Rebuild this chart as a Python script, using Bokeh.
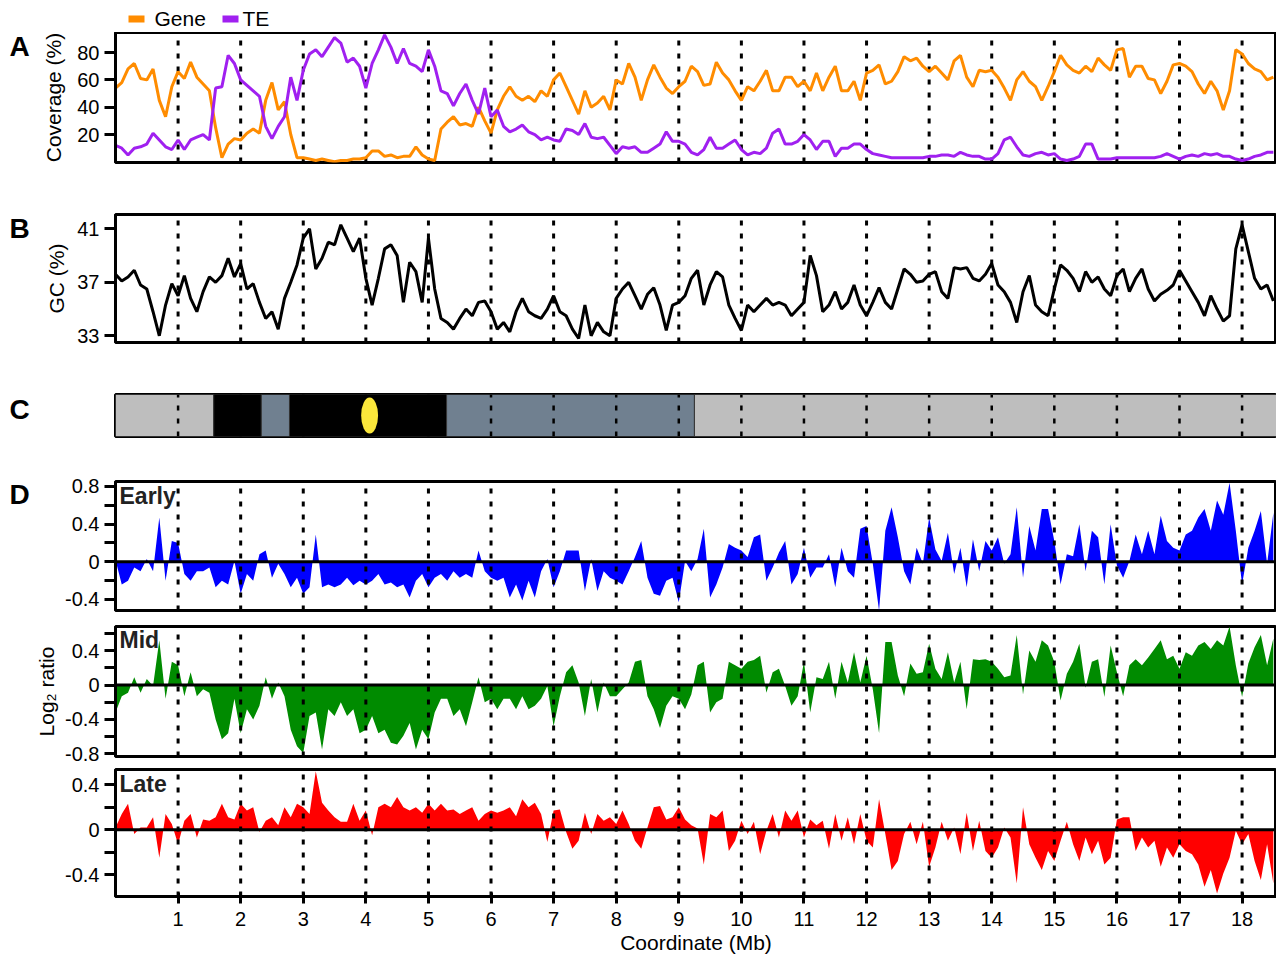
from bokeh.plotting import figure
from bokeh.models import Range1d, FixedTicker, Label, Span, CustomJSTickFormatter
from bokeh.layouts import column, row
from bokeh.embed import file_html
from bokeh.resources import INLINE
from bokeh.core.properties import value

FONT = "Liberation Sans"

# ---------------- data ----------------
pos_mb = [round(i * 0.1, 1) for i in range(186)]

gene_cov = [
    54, 58, 68, 72, 61, 60, 68, 45, 33, 55,
    66, 61, 73, 62, 57, 52, 25, 3, 13, 17,
    16, 21, 24, 21, 45, 58, 38, 44, 20, 3,
    3, 2, 1, 2, 1, 0, 1, 1, 2, 2,
    3, 8, 8, 4, 5, 3, 4, 4, 11, 5,
    2, 1, 24, 29, 33, 27, 28, 26, 40, 30,
    21, 38, 48, 55, 48, 45, 48, 44, 52, 48,
    60, 65, 55, 45, 35, 52, 40, 43, 48, 38,
    60, 57, 72, 62, 45, 60, 71, 62, 54, 50,
    55, 59, 70, 66, 56, 57, 73, 65, 60, 52,
    45, 55, 52, 59, 67, 52, 52, 62, 62, 55,
    59, 52, 65, 52, 62, 70, 52, 52, 59, 45,
    65, 67, 71, 57, 59, 66, 77, 74, 76, 70,
    66, 70, 65, 60, 74, 78, 62, 55, 67, 66,
    67, 62, 54, 45, 60, 66, 59, 55, 45, 55,
    66, 78, 71, 67, 65, 70, 66, 76, 71, 67,
    82, 83, 62, 70, 70, 61, 60, 50, 59, 71,
    72, 70, 66, 57, 50, 59, 52, 38, 52, 82,
    79, 72, 68, 66, 60, 62,
]

te_cov = [
    12, 10, 5, 10, 11, 13, 21, 16, 11, 9,
    16, 9, 16, 18, 20, 16, 54, 55, 78, 72,
    60, 56, 52, 48, 26, 17, 26, 33, 62, 45,
    67, 79, 82, 77, 84, 91, 87, 73, 76, 70,
    54, 72, 82, 93, 84, 72, 83, 72, 70, 66,
    82, 70, 52, 50, 41, 50, 57, 45, 35, 54,
    33, 38, 26, 22, 24, 27, 22, 20, 16, 18,
    16, 15, 24, 23, 20, 28, 18, 17, 18, 12,
    6, 11, 10, 11, 7, 7, 10, 13, 22, 15,
    15, 13, 7, 5, 9, 18, 10, 10, 13, 16,
    9, 5, 7, 6, 10, 21, 24, 13, 13, 15,
    20, 16, 9, 15, 15, 4, 10, 10, 13, 13,
    9, 6, 5, 4, 3, 3, 3, 3, 3, 3,
    4, 4, 5, 5, 4, 7, 5, 4, 4, 2,
    2, 6, 16, 18, 11, 5, 4, 6, 7, 5,
    6, 2, 1, 2, 4, 13, 13, 2, 2, 2,
    3, 3, 3, 3, 3, 3, 3, 4, 6, 4,
    2, 4, 5, 4, 6, 5, 6, 4, 4, 2,
    1, 2, 4, 5, 7, 7,
]

gc_pct = [
    37.6, 37.1, 37.4, 37.9, 36.8, 36.5, 34.8, 33.0, 35.3, 36.9,
    36.0, 37.5, 35.8, 34.8, 36.3, 37.4, 37.0, 37.5, 38.8, 37.4,
    38.4, 36.5, 36.9, 35.5, 34.3, 34.8, 33.5, 35.8, 37.0, 38.3,
    40.3, 41.0, 38.0, 38.8, 40.0, 39.8, 41.3, 40.3, 39.3, 40.3,
    37.3, 35.3, 37.3, 39.5, 39.8, 39.0, 35.5, 38.5, 37.8, 35.5,
    40.3, 36.5, 34.3, 34.0, 33.5, 34.3, 35.0, 34.5, 35.5, 35.6,
    34.8, 33.5, 34.0, 33.3, 34.8, 35.8, 34.8, 34.5, 34.3, 35.0,
    36.0, 34.8, 34.5, 33.5, 32.8, 35.3, 33.0, 34.0, 33.3, 33.0,
    35.8, 36.5, 37.0, 36.0, 35.0, 36.1, 36.6, 35.3, 33.4, 35.3,
    35.5, 36.0, 37.3, 37.9, 35.3, 36.8, 37.8, 37.4, 35.3, 34.3,
    33.4, 35.3, 34.8, 35.3, 35.8, 35.3, 35.5, 35.3, 34.5, 35.0,
    35.5, 39.0, 37.5, 34.8, 35.3, 36.3, 35.0, 35.5, 36.8, 35.3,
    34.5, 35.5, 36.6, 35.5, 35.0, 36.5, 38.0, 37.6, 37.0, 37.1,
    37.6, 37.8, 36.3, 35.8, 38.1, 38.0, 38.1, 37.3, 37.1, 37.6,
    38.4, 36.8, 36.3, 35.5, 34.0, 36.3, 37.5, 35.3, 34.8, 34.5,
    36.5, 38.3, 37.9, 37.3, 36.3, 37.8, 37.0, 37.4, 36.5, 36.0,
    37.5, 38.0, 36.3, 37.3, 38.0, 36.5, 35.6, 36.1, 36.4, 36.8,
    37.9, 37.1, 36.3, 35.5, 34.5, 36.0, 35.0, 34.1, 34.5, 39.5,
    41.3, 39.3, 37.3, 36.5, 36.8, 35.6,
]

early_log2 = [
    0.02, -0.24, -0.2, -0.06, -0.1, 0.03, -0.1, 0.47, -0.2, 0.22,
    0.2, -0.13, -0.2, -0.1, -0.1, -0.06, -0.27, -0.2, -0.24, 0.01,
    -0.34, -0.13, -0.2, 0.08, 0.12, -0.17, -0.02, -0.13, -0.27, -0.17,
    -0.34, -0.27, 0.29, -0.27, -0.24, -0.27, -0.24, -0.17, -0.25, -0.2,
    -0.24, -0.2, -0.13, -0.24, -0.22, -0.27, -0.24, -0.38, -0.2, -0.13,
    -0.27, -0.17, -0.13, -0.2, -0.1, -0.17, -0.13, -0.17, 0.12, -0.1,
    -0.17, -0.2, -0.17, -0.38, -0.24, -0.41, -0.2, -0.38, -0.1, 0.03,
    -0.27, -0.1, 0.12, 0.12, 0.12, -0.31, 0.03, -0.31, -0.1, -0.17,
    -0.2, -0.24, -0.1, 0.05, 0.22, -0.17, -0.34, -0.36, -0.2, -0.17,
    -0.43, 0.01, -0.1, 0.03, 0.35, -0.38, -0.24, -0.06, 0.19, 0.15,
    0.12, 0.05, 0.26, 0.29, -0.2, -0.06, 0.1, 0.22, -0.24, -0.13,
    0.15, -0.17, -0.06, -0.06, 0.08, -0.27, 0.15, -0.1, -0.17, 0.35,
    0.38, -0.02, -0.52, 0.33, 0.58, 0.26, -0.1, -0.24, 0.15, -0.02,
    0.47, 0.13, 0.01, 0.31, -0.13, 0.15, -0.27, 0.24, -0.1, 0.22,
    0.12, 0.26, -0.02, 0.08, 0.58, -0.17, 0.38, 0.12, 0.56, 0.56,
    0.22, -0.24, 0.08, 0.06, 0.4, -0.1, 0.33, 0.26, -0.24, 0.4,
    -0.04, -0.17, 0.01, 0.29, 0.08, 0.33, 0.08, 0.49, 0.22, 0.15,
    0.12, 0.29, 0.33, 0.47, 0.56, 0.33, 0.65, 0.5, 0.84, 0.33,
    -0.24, 0.15, 0.33, 0.54, -0.02, 0.52,
]

mid_log2 = [
    -0.32, -0.13, -0.09, 0.09, -0.09, 0.07, -0.01, 0.52, -0.16, 0.27,
    0.23, -0.13, 0.15, -0.13, -0.05, -0.09, -0.4, -0.63, -0.56, -0.16,
    -0.56, -0.28, -0.4, -0.24, 0.09, -0.16, 0.03, -0.13, -0.52, -0.71,
    -0.79, -0.36, -0.32, -0.75, -0.28, -0.36, -0.2, -0.36, -0.28, -0.56,
    -0.52, -0.36, -0.56, -0.52, -0.67, -0.69, -0.59, -0.44, -0.75, -0.52,
    -0.63, -0.32, -0.16, -0.16, -0.36, -0.28, -0.48, -0.2, 0.09, -0.2,
    -0.16, -0.28, -0.16, -0.16, -0.28, -0.13, -0.28, -0.24, -0.16, -0.01,
    -0.48, -0.13, 0.15, 0.23, 0.03, -0.36, 0.07, -0.32, 0.03, -0.13,
    -0.13, -0.05, 0.03, 0.27, 0.29, -0.13, -0.28, -0.5, -0.24, -0.13,
    -0.16, -0.28, -0.11, 0.23, 0.27, -0.32, -0.2, -0.16, 0.27, 0.23,
    0.19, 0.27, 0.29, 0.34, -0.09, 0.15, 0.19, -0.01, -0.24, -0.13,
    0.27, -0.32, 0.09, 0.07, 0.27, -0.16, 0.27, 0.03, 0.38, 0.03,
    0.34, -0.05, -0.56, 0.5, 0.5, 0.11, -0.13, 0.25, 0.13, 0.15,
    0.48, 0.19, 0.07, 0.38, 0.03, 0.27, -0.28, 0.3, 0.29, 0.3,
    0.27, 0.19, 0.09, 0.11, 0.58, -0.11, 0.4, 0.27, 0.52, 0.46,
    0.27, -0.18, 0.13, 0.27, 0.48, -0.03, 0.27, 0.3, -0.14, 0.46,
    0.15, -0.13, 0.23, 0.3, 0.23, 0.32, 0.42, 0.52, 0.3, 0.34,
    0.19, 0.38, 0.34, 0.46, 0.5, 0.42, 0.52, 0.46, 0.68, 0.23,
    -0.14, 0.25, 0.44, 0.58, 0.23, 0.54,
]

late_log2 = [
    0.02, 0.14, 0.23, -0.04, 0.02, 0.02, 0.11, -0.25, 0.14, 0.05,
    -0.13, 0.08, 0.14, -0.07, 0.09, 0.08, 0.11, 0.23, 0.11, 0.09,
    0.23, 0.17, 0.2, -0.02, 0.08, 0.11, 0.04, 0.2, 0.11, 0.23,
    0.2, 0.14, 0.52, 0.24, 0.17, 0.11, 0.07, 0.07, 0.23, 0.08,
    0.17, -0.05, 0.2, 0.23, 0.2, 0.29, 0.2, 0.17, 0.2, 0.15,
    0.23, 0.17, 0.23, 0.17, 0.18, 0.14, 0.17, 0.2, 0.08, 0.14,
    0.17, 0.15, 0.17, 0.2, 0.12, 0.27, 0.2, 0.24, 0.14, -0.11,
    0.17, 0.18, -0.02, -0.17, -0.1, 0.15, -0.04, 0.14, 0.08, 0.11,
    0.05, 0.17, 0.05, -0.1, -0.17, 0.02, 0.2, 0.21, 0.09, 0.11,
    0.2, 0.09, 0.04, 0.01, -0.31, 0.14, 0.11, 0.17, -0.19, -0.1,
    0.08, -0.04, 0.07, -0.22, -0.01, 0.14, -0.07, 0.17, 0.08, 0.17,
    -0.07, 0.09, 0.04, 0.08, -0.17, 0.14, -0.1, 0.11, -0.13, 0.14,
    -0.1, -0.16, 0.27, -0.04, -0.36, -0.28, -0.04, 0.07, -0.13, 0.07,
    -0.33, -0.16, 0.07, -0.1, 0.02, -0.22, 0.15, -0.19, 0.08, -0.19,
    -0.25, -0.16, 0.02, -0.07, -0.48, 0.2, -0.13, -0.25, -0.36, -0.19,
    -0.28, -0.1, 0.07, -0.13, -0.28, -0.07, -0.22, -0.1, -0.31, -0.25,
    0.09, 0.11, 0.11, -0.19, -0.07, -0.16, -0.1, -0.33, -0.16, -0.25,
    -0.13, -0.19, -0.22, -0.31, -0.51, -0.36, -0.57, -0.39, -0.25, -0.01,
    -0.13, -0.04, -0.28, -0.45, -0.13, -0.48,
]

mb_ticks = list(range(1, 19))

band_start = [0.0, 1.57, 2.33, 2.78, 5.29, 9.25]
band_end = [1.57, 2.33, 2.78, 5.29, 9.25, 18.6]
band_color = ["#bebebe", "#000000", "#708090", "#000000", "#708090", "#bebebe"]
centromere_mb = [4.06]

panel_letters = ["A", "B", "C", "D"]
legend_names = ["Gene", "TE"]
legend_colors = ["#FF8C00", "#A020F0"]

# ---------------- layout helpers ----------------
TOTAL_W = 1276
TOTAL_H = 960
LETTER_W = 31
W = TOTAL_W - LETTER_W
LEFT = 84
xr = Range1d(0, 18.55)
plain = CustomJSTickFormatter(code="return tick.toString();")


def make(height, yr, top, bottom, xaxis=False, yaxis=True, outline=True):
    p = figure(width=W, height=height, x_range=xr, y_range=yr,
               output_backend="svg", toolbar_location=None,
               x_axis_location="below" if xaxis else None,
               y_axis_location="left" if yaxis else None,
               min_border_left=LEFT, min_border_right=0,
               min_border_top=top, min_border_bottom=bottom)
    p.grid.visible = False
    p.outline_line_color = "black" if outline else None
    p.outline_line_width = 3
    p.outline_line_alpha = 1.0
    p.background_fill_color = "white"
    p.border_fill_color = "white"
    return p


def style_y(p, ticks, minor, label=None, standoff=8):
    ax = p.yaxis[0]
    ax.ticker = FixedTicker(ticks=ticks, minor_ticks=minor)
    ax.formatter = plain
    ax.major_label_text_font = FONT
    ax.major_label_text_font_size = "20px"
    ax.major_label_text_color = "black"
    ax.major_label_standoff = 5
    ax.major_tick_out = 11
    ax.major_tick_in = 0
    ax.minor_tick_out = 11
    ax.minor_tick_in = 0
    ax.major_tick_line_width = 3
    ax.minor_tick_line_width = 3
    ax.major_tick_line_color = "black"
    ax.minor_tick_line_color = "black"
    ax.axis_line_width = 3
    ax.axis_line_color = "black"
    if label:
        ax.axis_label = label
        ax.axis_label_text_font = FONT
        ax.axis_label_text_font_size = "21px"
        ax.axis_label_text_font_style = "normal"
        ax.axis_label_text_color = "black"
        ax.axis_label_standoff = standoff


def dashes(p, yr, width=3):
    p.segment(x0=mb_ticks, y0=yr.start, x1=mb_ticks, y1=yr.end,
              line_color="black", line_width=width, line_dash="5 8")


# ---------------- panel letters column ----------------
pletters = figure(width=LETTER_W, height=TOTAL_H, x_range=Range1d(0, LETTER_W),
                  y_range=Range1d(0, TOTAL_H), output_backend="svg",
                  toolbar_location=None, x_axis_location=None, y_axis_location=None,
                  min_border=0)
pletters.grid.visible = False
pletters.outline_line_color = None
pletters.text(x=[9, 9, 9, 9], y=[TOTAL_H - 46, TOTAL_H - 228, TOTAL_H - 409, TOTAL_H - 494],
              text=panel_letters, text_font=value(FONT), text_font_size="28px",
              text_font_style="bold", text_baseline="middle", text_color="black")

# ---------------- legend strip ----------------
pl = figure(width=W, height=32, x_range=Range1d(0, W - LEFT), y_range=Range1d(0, 32),
            output_backend="svg", toolbar_location=None,
            x_axis_location=None, y_axis_location=None,
            min_border_left=LEFT, min_border_right=0, min_border_top=0, min_border_bottom=0)
pl.grid.visible = False
pl.outline_line_color = None
pl.quad(left=[13, 107], right=[29, 123], bottom=[10, 10], top=[17, 17],
        fill_color=legend_colors, line_color=None)
pl.text(x=[39, 127], y=[14.5, 14.5], text=legend_names, text_font=value(FONT),
        text_font_size="21px", text_baseline="middle", text_color="black")

# ---------------- panel A ----------------
yrA = Range1d(-0.5, 94.7)
pA = make(153, yrA, 0, 23)
dashes(pA, yrA)
pA.line(pos_mb, gene_cov, line_color=legend_colors[0], line_width=3)
pA.line(pos_mb, te_cov, line_color=legend_colors[1], line_width=3)
style_y(pA, [20, 40, 60, 80], [], "Coverage (%)", 9)

# ---------------- panel B ----------------
yrB = Range1d(32.5, 42.07)
pB = make(180, yrB, 29, 23)
dashes(pB, yrB)
pB.line(pos_mb, gc_pct, line_color="black", line_width=3)
style_y(pB, [33, 37, 41], [], "GC (%)", 6)

# ---------------- panel C ----------------
yrC = Range1d(0, 1)
pC = make(93, yrC, 29, 22, yaxis=False)
pC.quad(left=band_start, right=band_end, bottom=0, top=1,
        fill_color=band_color, line_color="#333333", line_width=1)
dashes(pC, yrC, 2.5)
pC.ellipse(x=centromere_mb, y=[0.5], width=0.27, height=0.86,
           fill_color="#FBE73B", line_color=None)


# ---------------- panel D ----------------
def dpanel(height, yr, top, bottom, data, color, name, name_y, ticks, minor,
           xaxis=False, label=None, standoff=4):
    p = make(height, yr, top, bottom, xaxis=xaxis)
    p.varea(x=pos_mb, y1=0, y2=data, fill_color=color)
    dashes(p, yr)
    p.add_layout(Span(location=0, dimension="width", line_color="black", line_width=3))
    style_y(p, ticks, minor, label, standoff)
    p.add_layout(Label(x=0.064, y=name_y, text=name, text_font=FONT,
                       text_font_size="23px", text_font_style="bold",
                       text_baseline="top", text_color="#222222"))
    return p


yrE = Range1d(-0.517, 0.853)
pE = dpanel(161, yrE, 23, 9, early_log2, "#0000FF", "Early", 0.835,
            [-0.4, 0, 0.4, 0.8], [-0.2, 0.2, 0.6])

yrM = Range1d(-0.83, 0.68)
pM = dpanel(147, yrM, 7, 10, mid_log2, "#008B00", "Mid", 0.67,
            [-0.8, -0.4, 0, 0.4], [-0.6, -0.2, 0.2, 0.6], label="Log\u2082 ratio")

yrL = Range1d(-0.596, 0.536)
pLt = dpanel(194, yrL, 3, 64, late_log2, "#FF0000", "Late", 0.52,
             [-0.4, 0, 0.4], [-0.6, -0.2, 0.2], xaxis=True)
xa = pLt.xaxis[0]
xa.ticker = FixedTicker(ticks=mb_ticks, minor_ticks=[])
xa.formatter = plain
xa.major_label_text_font = FONT
xa.major_label_text_font_size = "20px"
xa.major_label_text_color = "black"
xa.major_label_standoff = 8
xa.major_tick_in = 4
xa.major_tick_out = 7
xa.major_tick_line_width = 3
xa.major_tick_line_color = "black"
xa.axis_line_width = 3
xa.axis_line_color = "black"
xa.axis_label = "Coordinate (Mb)"
xa.axis_label_text_font = FONT
xa.axis_label_text_font_size = "21px"
xa.axis_label_text_font_style = "normal"
xa.axis_label_text_color = "black"
xa.axis_label_standoff = 2

main = column(pl, pA, pB, pC, pE, pM, pLt, spacing=0)
layout = row(pletters, main, spacing=0)

with open("out.html", "w") as f:
    f.write(file_html(layout, INLINE, title="Chromosome profile"))
